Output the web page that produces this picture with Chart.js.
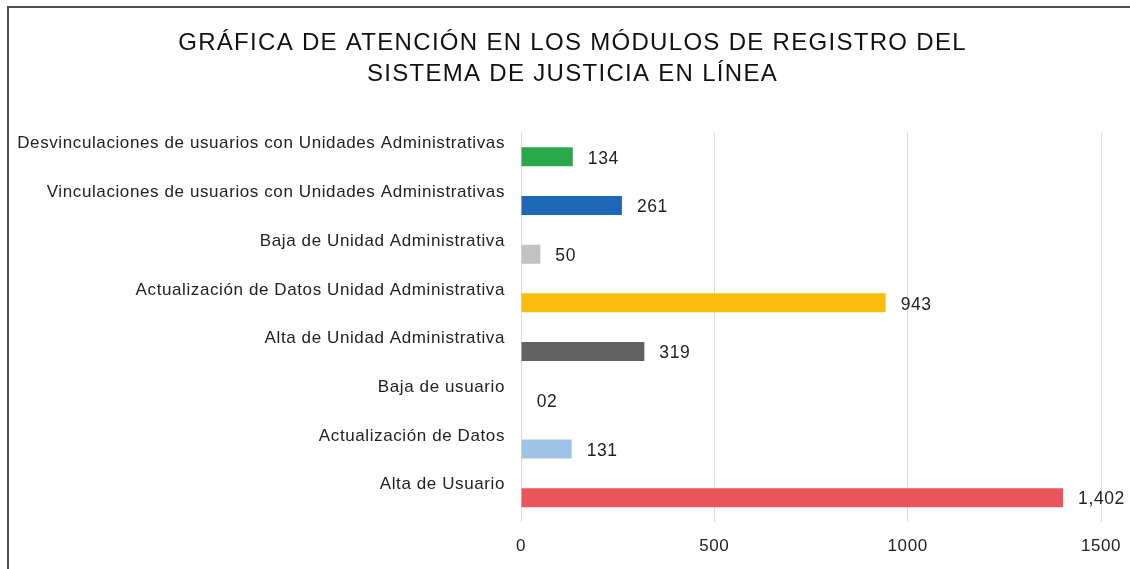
<!DOCTYPE html>
<html>
<head>
<meta charset="utf-8">
<script src="https://cdn.jsdelivr.net/npm/chart.js@4.4.1/dist/chart.umd.min.js"></script>
<style>
  html, body { margin: 0; padding: 0; background: #ffffff; overflow: hidden; }
  #wrap { position: relative; width: 1130px; height: 569px; }
  #c { position: absolute; left: 0; top: 0; }
  #frame { position: absolute; left: 7px; top: 6px; width: 1140px; height: 600px;
           border-left: 2px solid #4d4d4d; border-top: 2px solid #4d4d4d; pointer-events: none; }
</style>
</head>
<body>
<div id="wrap">
  <canvas id="c" width="1130" height="569"></canvas>
  <div id="frame"></div>
</div>
<script>
const titleLines = [
  'GRÁFICA DE ATENCIÓN EN LOS MÓDULOS DE REGISTRO DEL',
  'SISTEMA DE JUSTICIA EN LÍNEA'
];
const categories = [
  'Desvinculaciones de usuarios con Unidades Administrativas',
  'Vinculaciones de usuarios con Unidades Administrativas',
  'Baja de Unidad Administrativa',
  'Actualización de Datos Unidad Administrativa',
  'Alta de Unidad Administrativa',
  'Baja de usuario',
  'Actualización de Datos',
  'Alta de Usuario'
];
const values = [134, 261, 50, 943, 319, 2, 131, 1402];
const valueLabels = ['134', '261', '50', '943', '319', '02', '131', '1,402'];
const barColors = ['#2aa84c', '#1f68b8', '#c2c2c2', '#fdbd0f', '#626262', '#f4c09c', '#9fc3e7', '#e9555b'];
const xTicks = [0, 500, 1000, 1500];

const FONT = '"Liberation Sans", Arial, sans-serif';

const valueLabelPlugin = {
  id: 'valueLabels',
  afterDatasetsDraw(chart) {
    const ctx = chart.ctx;
    const meta = chart.getDatasetMeta(0);
    ctx.save();
    ctx.letterSpacing = '0.6px';
    ctx.font = '17.5px ' + FONT;
    ctx.fillStyle = '#222222';
    ctx.textAlign = 'left';
    ctx.textBaseline = 'middle';
    meta.data.forEach((bar, i) => {
      ctx.fillText(valueLabels[i], bar.x + 15, bar.y + 2);
    });
    ctx.restore();
  }
};

const spacingPlugin = {
  id: 'spacing',
  afterInit(chart) {
    const tb = chart.titleBlock;
    if (tb) {
      const orig = tb.draw.bind(tb);
      tb.draw = function () {
        const ctx = chart.ctx;
        ctx.save();
        ctx.letterSpacing = '1.3px';
        orig();
        ctx.restore();
      };
    }
  },
  beforeDraw(chart) {
    chart.ctx.letterSpacing = '0.6px';
  }
};

new Chart(document.getElementById('c'), {
  type: 'bar',
  data: {
    labels: categories,
    datasets: [{
      data: values,
      backgroundColor: barColors,
      borderWidth: 0,
      barPercentage: 0.39,
      categoryPercentage: 1.0
    }]
  },
  options: {
    indexAxis: 'y',
    responsive: false,
    animation: false,
    layout: { padding: { left: 44, right: 29, top: 0, bottom: 0 } },
    scales: {
      x: {
        min: 0,
        max: 1500,
        afterBuildTicks(scale) { scale.ticks = xTicks.map(v => ({ value: v })); },
        afterFit(scale) {
          scale.height = 47;
          scale.paddingLeft = 0;
          scale.paddingRight = 0;
        },
        ticks: {
          callback: v => String(v),
          font: { family: FONT, size: 17 },
          color: '#222222',
          padding: 14
        },
        grid: { color: '#dcdcdc', lineWidth: 1, drawTicks: false },
        border: { display: false }
      },
      y: {
        afterFit(scale) {
          scale.width = 477;
          scale._computeLabelArea = () => undefined;
        },
        ticks: {
          font: { family: FONT, size: 17 },
          color: '#222222',
          padding: 16,
          labelOffset: -13
        },
        grid: { display: false, drawTicks: false },
        border: { display: false }
      }
    },
    plugins: {
      legend: { display: false },
      tooltip: { enabled: false },
      title: {
        display: true,
        text: titleLines,
        font: { family: FONT, size: 24, weight: 'normal', lineHeight: 1.3 },
        color: '#111111',
        padding: { top: 28, bottom: 42 }
      }
    }
  },
  plugins: [valueLabelPlugin, spacingPlugin]
});
</script>
</body>
</html>
